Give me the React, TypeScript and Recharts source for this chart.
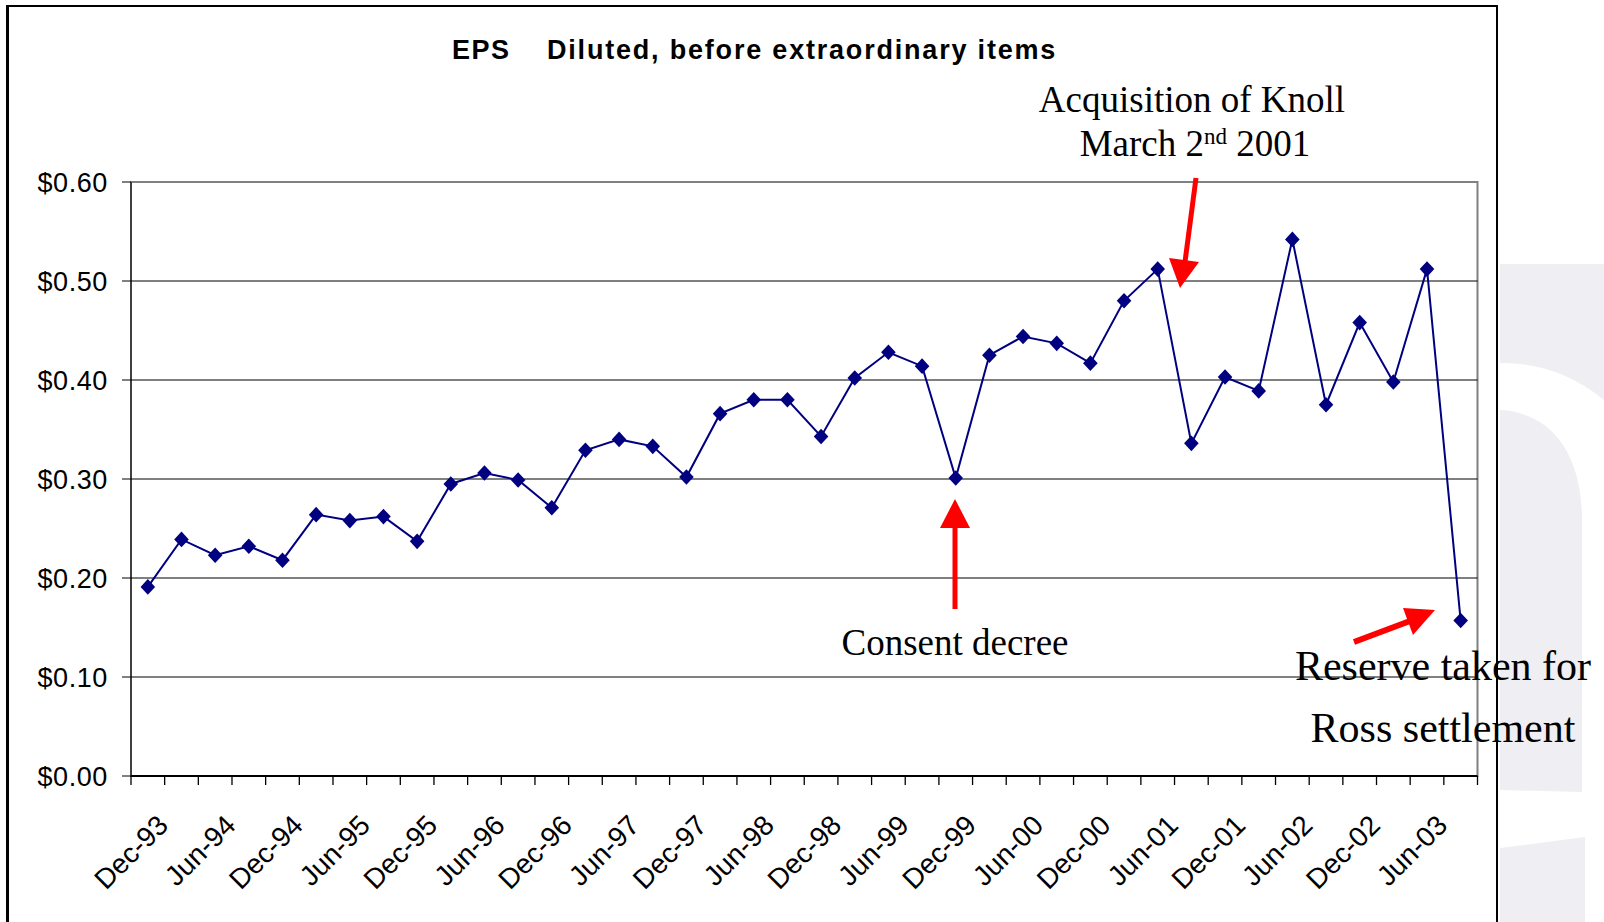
import { LineChart, Line, XAxis, YAxis, ReferenceLine, ReferenceArea } from 'recharts';

// Quarter ends, Dec-93 through Sep-03
const quarters = [
  'Dec-93', 'Mar-94', 'Jun-94', 'Sep-94', 'Dec-94', 'Mar-95', 'Jun-95', 'Sep-95',
  'Dec-95', 'Mar-96', 'Jun-96', 'Sep-96', 'Dec-96', 'Mar-97', 'Jun-97', 'Sep-97',
  'Dec-97', 'Mar-98', 'Jun-98', 'Sep-98', 'Dec-98', 'Mar-99', 'Jun-99', 'Sep-99',
  'Dec-99', 'Mar-00', 'Jun-00', 'Sep-00', 'Dec-00', 'Mar-01', 'Jun-01', 'Sep-01',
  'Dec-01', 'Mar-02', 'Jun-02', 'Sep-02', 'Dec-02', 'Mar-03', 'Jun-03', 'Sep-03',
];

// Diluted EPS before extraordinary items, $ per share
const epsValues = [
  0.191, 0.239, 0.223, 0.232, 0.218, 0.264, 0.258, 0.262,
  0.237, 0.295, 0.306, 0.299, 0.271, 0.329, 0.340, 0.333,
  0.302, 0.366, 0.380, 0.380, 0.343, 0.402, 0.428, 0.414,
  0.301, 0.425, 0.444, 0.437, 0.417, 0.480, 0.512, 0.336,
  0.403, 0.389, 0.542, 0.375, 0.458, 0.398, 0.512, 0.157,
];

const yTicks = [0, 0.1, 0.2, 0.3, 0.4, 0.5, 0.6];
const gridValues = [0.1, 0.2, 0.3, 0.4, 0.5];

const data = quarters.map((quarter, i) => ({ idx: i, quarter, eps: epsValues[i] }));

// tick marks sit between categories, labels on every second category
const boundaryTicks = Array.from({ length: quarters.length + 1 }, (_, i) => i - 0.5);
const centerTicks = quarters.map((_, i) => i);
const xTicks = [...boundaryTicks, ...centerTicks].sort((a, b) => a - b);

const SANS = '"Liberation Sans", Arial, sans-serif';
const SERIF = '"Liberation Serif", "Times New Roman", serif';
const NAVY = '#000080';
const RED = '#ff0000';

const XTick = ({ x, y, payload }: any) => {
  const v = payload.value;
  if (!Number.isInteger(v)) {
    return <line x1={x} y1={y} x2={x} y2={y + 9} stroke="#000" strokeWidth={1.3} />;
  }
  if (v % 2 !== 0) return <g />;
  const tx = x + 22;
  const ty = y + 51;
  return (
    <text
      x={tx}
      y={ty}
      transform={`rotate(-45 ${tx} ${ty})`}
      textAnchor="end"
      fontSize={28}
      fontFamily={SANS}
      fill="#000"
    >
      {quarters[v]}
    </text>
  );
};

const YTick = ({ x, y, payload }: any) => (
  <text x={x} y={y} dy={10} textAnchor="end" fontSize={27} letterSpacing={0.6} fontFamily={SANS} fill="#000">
    {`$${payload.value.toFixed(2)}`}
  </text>
);

const Diamond = (props: any) => {
  const { cx, cy, index } = props;
  return (
    <path
      key={`d-${index}`}
      d={`M${cx} ${cy - 7.8} L${cx + 7.3} ${cy} L${cx} ${cy + 7.8} L${cx - 7.3} ${cy} Z`}
      fill={NAVY}
    />
  );
};

export default function App() {
  return (
    <div style={{ position: 'absolute', left: 0, top: 0, width: 1604, height: 922, background: '#fff', overflow: 'hidden' }}>
      {/* slide background shapes */}
      <svg width={1604} height={922} style={{ position: 'absolute', left: 0, top: 0 }}>
        <path d="M1500 264 H1604 V400 C1572 374 1538 363 1500 363 Z" fill="#eeeef3" />
        <path d="M1500 410 C1542 412 1582 442 1582 522 V792 L1500 790 Z" fill="#eeeef3" />
        <path d="M1500 848 L1585 837 V922 H1500 Z" fill="#eeeef3" />
      </svg>

      <div style={{ position: 'absolute', left: 0, top: 0 }}>
        <LineChart
          width={1604}
          height={922}
          data={data}
          margin={{ top: 182, right: 126.5, left: 71, bottom: 116 }}
        >
          <ReferenceArea x1={-0.5} x2={39.5} y1={0} y2={0.6} fill="none" stroke="#808080" strokeWidth={2} />
          {gridValues.map((v) => (
            <ReferenceLine key={v} y={v} stroke="#000" strokeWidth={1} />
          ))}
          <XAxis
            dataKey="idx"
            type="number"
            domain={[-0.5, 39.5]}
            ticks={xTicks}
            interval={0}
            height={30}
            tickSize={0}
            tickMargin={0}
            tickLine={false}
            axisLine={{ stroke: '#000', strokeWidth: 2 }}
            tick={<XTick />}
          />
          <YAxis
            type="number"
            domain={[0, 0.6]}
            ticks={yTicks}
            width={60}
            tickSize={9}
            tickMargin={14}
            tickLine={{ stroke: '#000' }}
            axisLine={{ stroke: '#000' }}
            tick={<YTick />}
          />
          <Line
            type="linear"
            dataKey="eps"
            stroke={NAVY}
            strokeWidth={2}
            dot={Diamond}
            activeDot={false}
            isAnimationActive={false}
          />
        </LineChart>
      </div>

      {/* title, annotations and frame */}
      <svg width={1604} height={922} style={{ position: 'absolute', left: 0, top: 0, pointerEvents: 'none' }}>
        <text x={452} y={59} fontSize={27} fontWeight="bold" fontFamily={SANS} letterSpacing={1.5}>EPS</text>
        <text x={547} y={59} fontSize={27} fontWeight="bold" fontFamily={SANS} letterSpacing={1.8}>
          Diluted, before extraordinary items
        </text>

        <g fontFamily={SERIF} fill="#000" textAnchor="middle">
          <text x={1192} y={112} fontSize={37}>Acquisition of Knoll</text>
          <text x={1195} y={156} fontSize={37}>
            March 2<tspan fontSize={23} dy={-12}>nd</tspan>
            <tspan dy={12}> 2001</tspan>
          </text>
          <text x={955} y={655} fontSize={37}>Consent decree</text>
          <text x={1443} y={680} fontSize={42}>Reserve taken for</text>
          <text x={1443} y={742} fontSize={42}>Ross settlement</text>
        </g>

        <g fill={RED} stroke="none">
          <line x1={1196} y1={178} x2={1185} y2={262} stroke={RED} strokeWidth={5} />
          <polygon points="1169,258 1199,262 1180,288" />
          <line x1={955} y1={609} x2={955} y2={526} stroke={RED} strokeWidth={5} />
          <polygon points="940,528 970,528 955,499" />
          <line x1={1354} y1={642} x2={1410} y2={621} stroke={RED} strokeWidth={6} />
          <polygon points="1403,608 1435,610 1413,635" />
        </g>

        <line x1={7.5} y1={5} x2={7.5} y2={922} stroke="#000" strokeWidth={3} />
        <line x1={6} y1={6} x2={1498} y2={6} stroke="#000" strokeWidth={2} />
        <line x1={1497} y1={5} x2={1497} y2={922} stroke="#000" strokeWidth={2} />
      </svg>
    </div>
  );
}
